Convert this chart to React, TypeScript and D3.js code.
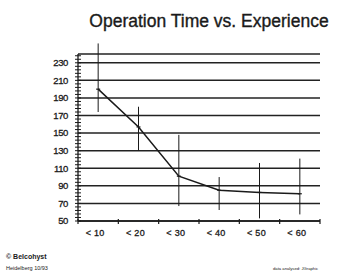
import React from "react";
import * as d3 from "d3";

const categories = ["< 10", "< 20", "< 30", "< 40", "< 50", "< 60"];
const means = [200, 157, 101, 85, 82.5, 81];
const lows = [174, 130, 67, 62.5, 53, 57.5];
const highs = [252, 180, 148, 100, 116, 121];
const yTicks = [50, 70, 90, 110, 130, 150, 170, 190, 210, 230];

export default function App() {
  const W = 350, H = 277;
  const left = 78, right = 320, top = 54, bottom = 221;
  const y = d3.scaleLinear().domain([50, 240]).range([bottom, top]);
  const x = d3.scaleBand<string>().domain(categories).range([left, right]);
  const cx = (c: string) => (x(c) as number) + x.bandwidth() / 2;
  const minor = d3.range(50, 241, 4);
  const line = d3.line<number>().x((_, i) => cx(categories[i])).y((d) => y(d));
  const bounds = [...categories.map((c) => x(c) as number), right];
  const ink = "#1a1a1a";
  const font = "Liberation Sans, Arial, Helvetica, sans-serif";
  return (
    <svg width={W} height={H} style={{ position: "absolute", left: 0, top: 0, background: "#fff" }} fontFamily={font}>
      <text x={209} y={27} textAnchor="middle" fontSize={17.5} fill={ink} stroke={ink} strokeWidth={0.35}>
        Operation Time vs. Experience
      </text>
      {[...yTicks, 240].map((t) => (
        <line key={"g" + t} x1={left} x2={right} y1={y(t)} y2={y(t)} stroke="#222" strokeWidth={1.5} />
      ))}
      {yTicks.map((t) => (
        <text key={"l" + t} x={68} y={y(t) + 3.3} textAnchor="end" fontSize={9.5} fill={ink} stroke={ink} strokeWidth={0.3} letterSpacing={-0.4}>
          {t}
        </text>
      ))}
      <line x1={left} x2={left} y1={top} y2={bottom} stroke={ink} strokeWidth={1.3} />
      {minor.map((t) => (
        <line key={"m" + t} x1={left - 3} x2={left + 3} y1={y(t)} y2={y(t)} stroke={ink} strokeWidth={1} />
      ))}
      <line x1={left} x2={right} y1={bottom} y2={bottom} stroke={ink} strokeWidth={1.7} />
      {bounds.map((b, i) => (
        <line key={"xt" + i} x1={b} x2={b} y1={bottom - 2} y2={bottom + 3} stroke={ink} strokeWidth={1.2} />
      ))}
      {categories.map((c) => (
        <text key={"xl" + c} x={cx(c) - 3} y={236} textAnchor="middle" fontSize={9} fill={ink} stroke={ink} strokeWidth={0.3} letterSpacing={0.3}>
          {c}
        </text>
      ))}
      {categories.map((c, i) => (
        <g key={"e" + c}>
          <line x1={cx(c)} x2={cx(c)} y1={y(highs[i])} y2={y(lows[i])} stroke={ink} strokeWidth={1} />
          <line x1={cx(c) - 2} x2={cx(c) + 2} y1={y(means[i])} y2={y(means[i])} stroke={ink} strokeWidth={1.2} />
        </g>
      ))}
      <path d={line(means) as string} fill="none" stroke={ink} strokeWidth={1.5} />
      <text x={6} y={259} fontSize={7} fill={ink} fontWeight="bold">© Belcohyst</text>
      <text x={6} y={270} fontSize={5.5} fill={ink}>Heidelberg 10/93</text>
      <text x={273} y={270} fontSize={4.2} fill={ink}>data analysed: JGraphic</text>
    </svg>
  );
}
